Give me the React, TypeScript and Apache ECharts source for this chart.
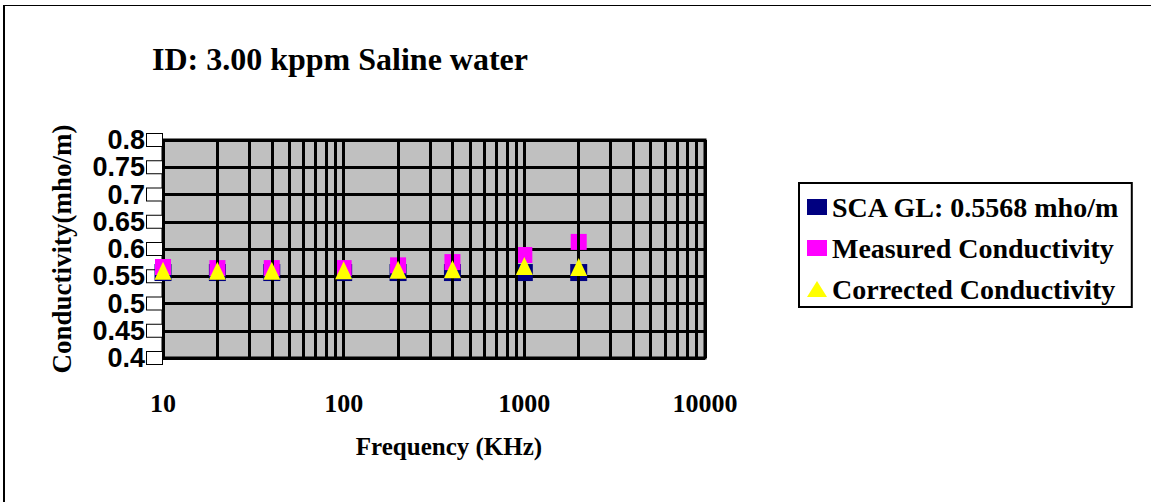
import React, { useEffect, useRef } from "react";
import * as echarts from "echarts";

const frequencies = [10, 20, 40, 100, 200, 400, 1000, 2000];
const scaGL = [0.5568, 0.5568, 0.5568, 0.5568, 0.5568, 0.5568, 0.5568, 0.5568];
const measured = [0.567, 0.565, 0.565, 0.565, 0.57, 0.576, 0.589, 0.613];
const corrected = [0.56, 0.56, 0.56, 0.561, 0.562, 0.563, 0.569, 0.567];
const xTickLabels = ["10", "100", "1000", "10000"];
const minorGridX = [
  20, 30, 40, 50, 60, 70, 80, 90,
  200, 300, 400, 500, 600, 700, 800, 900,
  2000, 3000, 4000, 5000, 6000, 7000, 8000, 9000,
];
const seriesNames = ["SCA GL: 0.5568 mho/m", "Measured Conductivity", "Corrected Conductivity"];

const SERIF = "'Liberation Serif', 'Times New Roman', serif";
const SANS = "'Liberation Sans', Arial, sans-serif";

export default function App() {
  const ref = useRef<HTMLDivElement>(null);
  useEffect(() => {
    if (!ref.current) return;
    const chart = echarts.init(ref.current, undefined, { renderer: "svg" });
    const pts = (vals: number[]) => frequencies.map((f, i) => [f, vals[i]]);
    chart.setOption({
      animation: false,
      backgroundColor: "#ffffff",
      title: {
        text: "ID: 3.00 kppm Saline water",
        left: 147,
        top: 38,
        textStyle: { fontFamily: SERIF, fontWeight: "bold", fontSize: 32, color: "#000" },
      },
      graphic: [
        { type: "line", shape: { x1: 4, y1: 5, x2: 4, y2: 502 }, style: { stroke: "#000", lineWidth: 2 } },
        { type: "line", shape: { x1: 3, y1: 5.5, x2: 1151, y2: 5.5 }, style: { stroke: "#000", lineWidth: 1 } },
      ],
      legend: {
        orient: "vertical",
        left: 799,
        top: 183,
        width: 340,
        borderColor: "#000",
        borderWidth: 2,
        padding: [10, 12, 4, 8],
        itemGap: 13,
        itemWidth: 20,
        itemHeight: 16,
        textStyle: { fontFamily: SERIF, fontWeight: "bold", fontSize: 28, color: "#000", padding: [0, 0, 0, 0] },
        data: [
          { name: seriesNames[0], icon: "rect" },
          { name: seriesNames[1], icon: "rect" },
          { name: seriesNames[2], icon: "triangle" },
        ],
      },
      grid: {
        left: 163,
        right: 446,
        top: 140,
        bottom: 144,
        show: true,
        backgroundColor: "#c0c0c0",
        borderColor: "#000",
        borderWidth: 3,
      },
      xAxis: {
        type: "log",
        logBase: 10,
        min: 10,
        max: 10000,
        name: "Frequency (KHz)",
        nameLocation: "middle",
        nameGap: 76,
        nameTextStyle: { fontFamily: SERIF, fontWeight: "bold", fontSize: 25, color: "#000", padding: [0, 0, 0, 30] },
        axisLine: { show: false },
        axisTick: { show: false },
        axisLabel: {
          margin: 32,
          fontFamily: SERIF,
          fontWeight: "bold",
          fontSize: 26,
          color: "#000",
          formatter: (v: number) => {
            const s = String(Math.round(v));
            return xTickLabels.includes(s) ? s : "";
          },
        },
        splitLine: { show: true, lineStyle: { color: "#000", width: 3 } },
      },
      yAxis: {
        type: "value",
        min: 0.4,
        max: 0.8,
        interval: 0.05,
        name: "Conductivity(mho/m)",
        nameLocation: "middle",
        nameGap: 88,
        nameTextStyle: { fontFamily: SERIF, fontWeight: "bold", fontSize: 27, color: "#000" },
        axisLine: { show: false },
        axisTick: { show: false },
        axisLabel: {
          margin: 1,
          formatter: (v: number) => `{v|${parseFloat(v.toFixed(2))}}{b|}`,
          rich: {
            v: { fontFamily: SANS, fontWeight: "bold", fontSize: 27, color: "#000", padding: [0, 2, 0, 0] },
            b: { width: 15, height: 12, borderColor: "#000", borderWidth: 1, backgroundColor: "#fff" },
          },
        },
        splitLine: { show: true, lineStyle: { color: "#000", width: 3 } },
      },
      series: [
        {
          type: "scatter",
          name: "minor",
          data: [],
          z: 1,
          silent: true,
          markLine: {
            silent: true,
            symbol: "none",
            label: { show: false },
            lineStyle: { color: "#000", width: 3, type: "solid" },
            data: minorGridX.map((x) => ({ xAxis: x })),
          },
        },
        {
          type: "scatter",
          name: seriesNames[0],
          data: pts(scaGL),
          symbol: "rect",
          symbolSize: 17,
          itemStyle: { color: "#000080", opacity: 1 },
          z: 3,
        },
        {
          type: "scatter",
          name: seriesNames[1],
          data: pts(measured),
          symbol: "rect",
          symbolSize: 16,
          itemStyle: { color: "#ff00ff", opacity: 1 },
          z: 4,
        },
        {
          type: "scatter",
          name: seriesNames[2],
          data: pts(corrected),
          symbol: "triangle",
          symbolSize: [17, 18],
          itemStyle: { color: "#ffff00", opacity: 1 },
          z: 5,
        },
      ],
    });
    return () => chart.dispose();
  }, []);
  return (
    <div
      ref={ref}
      style={{ position: "fixed", left: 0, top: 0, width: 1151, height: 502 }}
    />
  );
}
